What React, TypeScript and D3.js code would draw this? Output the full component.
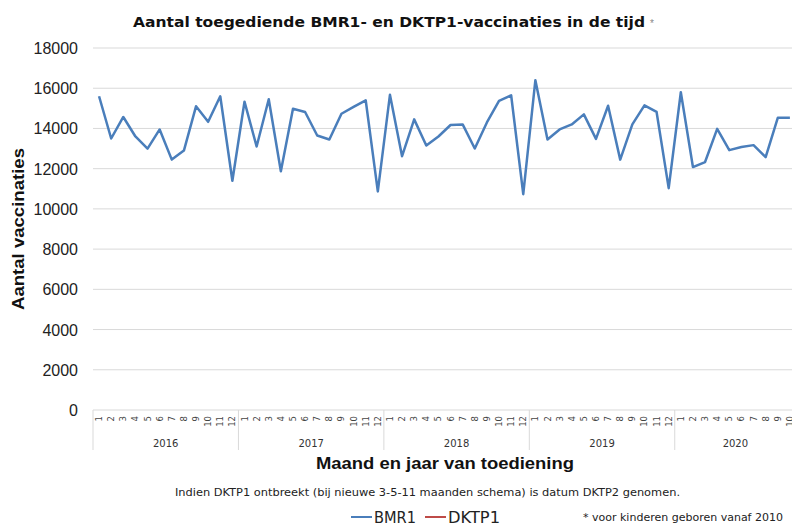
import React from "react";
import * as d3 from "d3";

// chart data
const years = ["2016", "2017", "2018", "2019", "2020"];
const monthsPerYear = [12, 12, 12, 12, 10];
const bmr1 = [
  15600, 13500, 14570, 13600, 13000, 13950, 12450, 12900, 15100, 14330, 15600, 11400,
  15330, 13100, 15450, 11870, 14980, 14820, 13650, 13450, 14730, 15070, 15400, 10870,
  15670, 12620, 14450, 13150, 13600, 14170, 14200, 13000, 14300, 15370, 15650, 10730,
  16400, 13450, 13950, 14200, 14700, 13480, 15130, 12450, 14200, 15150, 14820, 11030,
  15800, 12080, 12330, 13980, 12920, 13080, 13170, 12570, 14530, 14530,
];
const dktp1: number[] = [];
const yTicks = [0, 2000, 4000, 6000, 8000, 10000, 12000, 14000, 16000, 18000];

const BLUE = "#4A7EBB";
const RED = "#BE4B48";
const GRID = "#D9D9D9";

type Month = { key: string; year: string; month: number };

const months: Month[] = years.flatMap((yr, yi) =>
  d3.range(1, monthsPerYear[yi] + 1).map((m) => ({ key: `${yr}-${m}`, year: yr, month: m }))
);

export default function App() {
  const left = 93;
  const bw = 12.12;
  const x = d3
    .scaleBand<string>()
    .domain(months.map((d) => d.key))
    .range([left, left + months.length * bw]);
  const y = d3.scaleLinear().domain([0, 18000]).range([410, 48]);

  const line = d3
    .line<number>()
    .x((_, i) => (x(months[i].key) as number) + x.bandwidth() / 2)
    .y((d) => y(d));

  // year groups
  const groups = years.map((yr) => {
    const ms = months.filter((m) => m.year === yr);
    const x0 = x(ms[0].key) as number;
    const x1 = (x(ms[ms.length - 1].key) as number) + x.bandwidth();
    return { yr, x0, x1 };
  });

  const sans = "'Liberation Sans', Arial, sans-serif";
  const tah = "'DejaVu Sans', Verdana, sans-serif";

  return (
    <svg
      width={792}
      height={526}
      style={{ position: "absolute", left: 0, top: 0, background: "#fff" }}
    >
      {/* title */}
      <text x={133} y={27} fontFamily={tah} fontWeight="bold" fontSize={14} textLength={512} lengthAdjust="spacingAndGlyphs" fill="#111">
        Aantal toegediende BMR1- en DKTP1-vaccinaties in de tijd
      </text>
      <text x={650} y={27} fontFamily={sans} fontSize={10} fill="#888">*</text>

      {/* grid + y labels */}
      {yTicks.map((t) => (
        <g key={t}>
          {t > 0 && <line x1={left} x2={800} y1={y(t)} y2={y(t)} stroke={GRID} strokeWidth={1} />}
          <text x={78} y={y(t) + 6} textAnchor="end" fontFamily={sans} fontSize={16} fill="#222">
            {t}
          </text>
        </g>
      ))}

      {/* x axis line */}
      <line x1={left} x2={800} y1={y(0)} y2={y(0)} stroke={GRID} strokeWidth={1} />

      {/* year separators */}
      {groups.map((g) => (
        <line key={g.yr} x1={g.x0} x2={g.x0} y1={y(0)} y2={450} stroke={GRID} strokeWidth={1} />
      ))}

      {/* month labels */}
      {months.map((m) => {
        const cx = (x(m.key) as number) + x.bandwidth() / 2;
        return (
          <text
            key={m.key}
            transform={`translate(${cx + 3},416) rotate(-90)`}
            textAnchor="end"
            fontFamily={tah}
            fontSize={8.5}
            fill="#444"
          >
            {m.month}
          </text>
        );
      })}

      {/* year labels */}
      {groups.map((g) => (
        <text key={g.yr} x={(g.x0 + g.x1) / 2} y={447} textAnchor="middle" fontFamily={tah} fontSize={10} fill="#333">
          {g.yr}
        </text>
      ))}

      {/* series */}
      <path d={line(bmr1) || ""} fill="none" stroke={BLUE} strokeWidth={2.5} strokeLinejoin="round" />
      {dktp1.length > 0 && (
        <path d={line(dktp1) || ""} fill="none" stroke={RED} strokeWidth={2.5} strokeLinejoin="round" />
      )}

      {/* axis titles */}
      <text
        transform="translate(24,229) rotate(-90)"
        textAnchor="middle"
        fontFamily={sans}
        fontWeight="bold"
        fontSize={16}
        textLength={162}
        lengthAdjust="spacingAndGlyphs"
        fill="#111"
      >
        Aantal vaccinaties
      </text>
      <text x={445} y={469} textAnchor="middle" fontFamily={sans} fontWeight="bold" fontSize={16} textLength={258} lengthAdjust="spacingAndGlyphs" fill="#111">
        Maand en jaar van toediening
      </text>

      {/* footnote */}
      <text x={175} y={496} fontFamily={tah} fontSize={10.5} textLength={505} lengthAdjust="spacingAndGlyphs" fill="#222">
        Indien DKTP1 ontbreekt (bij nieuwe 3-5-11 maanden schema) is datum DKTP2 genomen.
      </text>

      {/* legend */}
      <line x1={351} x2={372} y1={517} y2={517} stroke={BLUE} strokeWidth={2} />
      <text x={374} y={523} fontFamily={tah} fontSize={15} textLength={42} lengthAdjust="spacingAndGlyphs" fill="#222">BMR1</text>
      <line x1={425} x2={446} y1={517} y2={517} stroke={RED} strokeWidth={2} />
      <text x={448} y={523} fontFamily={tah} fontSize={15} textLength={52} lengthAdjust="spacingAndGlyphs" fill="#222">DKTP1</text>
      <text x={583} y={521} fontFamily={tah} fontSize={10.5} textLength={200} lengthAdjust="spacingAndGlyphs" fill="#222">
        * voor kinderen geboren vanaf 2010
      </text>
    </svg>
  );
}
